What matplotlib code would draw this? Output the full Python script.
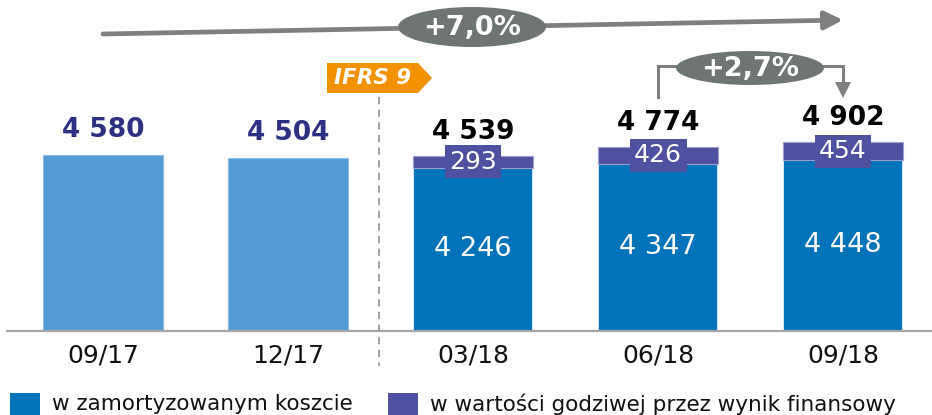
import matplotlib
matplotlib.use('Agg')
import matplotlib.pyplot as plt
from matplotlib.patches import Ellipse, Polygon, Rectangle
import numpy as np

# ---- data ----
categories = ['09/17', '12/17', '03/18', '06/18', '09/18']
amortised = [4580, 4504, 4246, 4347, 4448]
fair_value = [0, 0, 293, 426, 454]
totals = [4580, 4504, 4539, 4774, 4902]
pre_ifrs = [True, True, False, False, False]
legend_labels = ['w zamortyzowanym koszcie', 'w wartości godziwej przez wynik finansowy']
growth_year = '+7,0%'
growth_quarter = '+2,7%'
ifrs_label = 'IFRS 9'


def fmt(v):
    return f'{v:,}'.replace(',', ' ')


LIGHT = '#539BD5'
DARK = '#0073BA'
PURPLE = '#4F51A0'
NAVY = '#2E3182'
ORANGE = '#F39200'
ELL = '#6F7575'
ARR = '#7F7F7F'

plt.rcParams['font.family'] = ['DejaVu Sans']

W, H = 932, 415
fig = plt.figure(figsize=(W / 100, H / 100), dpi=100)

base_px = 331          # baseline pixel (from top)
spacing = 185          # px between categories
first_c = 103          # px of first category centre
px_per_unit = 0.0385

ax = fig.add_axes([0, (H - base_px) / H, 1, base_px / H])
ax.set_xlim(-first_c / spacing, (W - first_c) / spacing)
ax.set_ylim(0, base_px / px_per_unit)
for s in ax.spines.values():
    s.set_visible(False)
ax.set_yticks([])

x = np.arange(len(categories))
bw = 0.654
light_idx = [i for i in range(len(x)) if pre_ifrs[i]]
stk_idx = [i for i in range(len(x)) if not pre_ifrs[i]]

ax.bar(x[light_idx], [amortised[i] for i in light_idx], width=bw, color=LIGHT,
       edgecolor='#8FBDE6', linewidth=0.8, zorder=2)
ax.bar(x[stk_idx], [amortised[i] for i in stk_idx], width=bw, color=DARK,
       edgecolor='white', linewidth=1.2, zorder=2)
ax.bar(x[stk_idx], [fair_value[i] for i in stk_idx], bottom=[amortised[i] for i in stk_idx],
       width=bw, color=PURPLE, edgecolor='#9FA0D0', linewidth=0.8, zorder=2)

ax.set_xticks(x)
ax.set_xticklabels(categories, fontsize=18, color='#111111')
ax.tick_params(axis='x', length=0, pad=9)

# total labels
for i in range(len(x)):
    ax.annotate(fmt(totals[i]), (x[i], totals[i]), xytext=(0, 17.5), textcoords='offset points',
                ha='center', va='center', fontsize=19, fontweight='bold',
                color=NAVY if pre_ifrs[i] else 'black', zorder=5)

# inner labels
for i in stk_idx:
    ax.text(x[i], amortised[i] / 2, fmt(amortised[i]), ha='center', va='center',
            fontsize=19.5, color='white', zorder=5)
    ax.text(x[i], amortised[i] + fair_value[i] / 2, fmt(fair_value[i]), ha='center', va='center',
            fontsize=18, color='white', zorder=5,
            bbox=dict(boxstyle='square,pad=0.18', facecolor=PURPLE, edgecolor='none'))

# ---- overlay for decorations ----
ov = fig.add_axes([0, 0, 1, 1])
ov.set_xlim(0, W)
ov.set_ylim(H, 0)
ov.axis('off')

# baseline
ov.plot([7, W], [base_px, base_px], color='#A6A6A6', lw=1.6, zorder=1)

# dashed separator
ov.plot([379, 379], [97, 366], color='#9A9A9A', lw=1.3, ls=(0, (4, 3)), zorder=1)

# IFRS tag
ov.add_patch(Polygon([(327, 63), (418, 63), (432, 78), (418, 93), (327, 93)],
                     closed=True, facecolor=ORANGE, edgecolor='none', zorder=3))
ov.text(373, 78.5, ifrs_label, ha='center', va='center', fontsize=15.5, fontweight='bold',
        fontstyle='italic', color='white', zorder=4)

# big arrow
ov.annotate('', xy=(843, 20), xytext=(103, 34),
            arrowprops=dict(arrowstyle='-|>,head_length=1.1,head_width=0.55', lw=3.4,
                            color=ARR, shrinkA=0, shrinkB=0), zorder=3)
ov.add_patch(Ellipse((472, 27), 148, 40, facecolor=ELL, edgecolor='none', zorder=4))
ov.text(472, 28, growth_year, ha='center', va='center', fontsize=19.5, fontweight='bold',
        color='white', zorder=5)

# quarter bracket arrow
ov.plot([658, 658, 690], [97, 66, 66], color=ARR, lw=2.2, solid_joinstyle='miter', zorder=3)
ov.plot([810, 843, 843], [66, 66, 84], color=ARR, lw=2.2, solid_joinstyle='miter', zorder=3)
ov.add_patch(Polygon([(835, 82), (851, 82), (843, 98)], closed=True, facecolor=ARR,
                     edgecolor='none', zorder=3))
ov.add_patch(Ellipse((750, 68), 148, 34, facecolor=ELL, edgecolor='none', zorder=4))
ov.text(750, 69, growth_quarter, ha='center', va='center', fontsize=19.5, fontweight='bold',
        color='white', zorder=5)

# legend
ov.add_patch(Rectangle((10, 393), 30, 24, facecolor=DARK, edgecolor='none', zorder=3))
ov.text(52, 404, legend_labels[0], ha='left', va='center', fontsize=15.5, color='#111111')
ov.add_patch(Rectangle((388, 393), 30, 24, facecolor=PURPLE, edgecolor='none', zorder=3))
ov.text(430, 404, legend_labels[1], ha='left', va='center', fontsize=15.5, color='#111111')

fig.savefig('out.png', dpi=100)
